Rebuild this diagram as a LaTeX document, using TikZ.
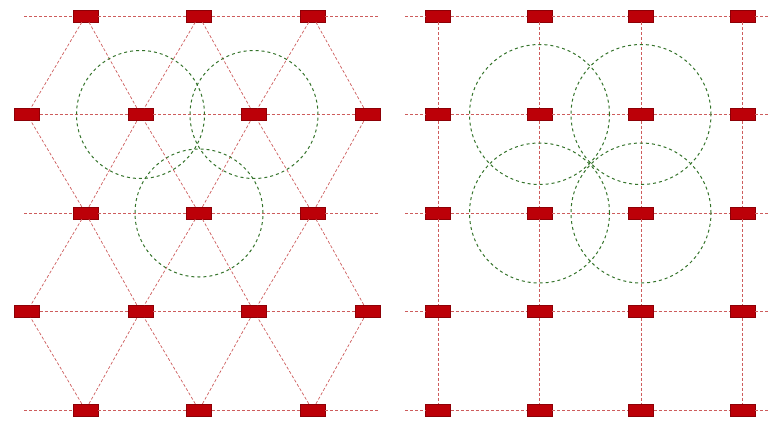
\documentclass[tikz,border=0pt]{standalone}
\usepackage{tikz}
\usetikzlibrary{positioning}
\definecolor{sensorcolor}{RGB}{188,0,8}
\definecolor{linkcolor}{RGB}{205,92,92}
\definecolor{rangecolor}{RGB}{52,115,42}

\begin{document}
\begin{tikzpicture}[x=1pt, y=-1pt,
    sensor/.style={draw=sensorcolor!75!black, fill=sensorcolor, minimum width=25pt, minimum height=12pt, inner sep=0pt},
    link/.style={draw=linkcolor, densely dashed, line width=0.7pt},
    coverage/.style={draw=rangecolor, dashed, line width=1pt}
]
    \useasboundingbox (0,0) rectangle (771,421);

    % Left panel: triangular lattice
    \foreach \r in {0,2,4} {
        \foreach \c in {0,1,2}
            \node[sensor] (L-\r-\c) at (85.5+113.5*\c, 16+98.5*\r) {};
        \coordinate (Lw-\r) at (24, 16+98.5*\r);
        \coordinate (Le-\r) at (380, 16+98.5*\r);
        \draw[link] (Lw-\r) -- (L-\r-0) -- (L-\r-1) -- (L-\r-2) -- (Le-\r);
    }
    \foreach \r in {1,3} {
        \foreach \c in {0,...,3}
            \node[sensor] (L-\r-\c) at (27+113.5*\c, 16+98.5*\r) {};
        \draw[link] (L-\r-0) -- (L-\r-1) -- (L-\r-2) -- (L-\r-3);
    }
    \foreach \r/\s in {0/1,2/1,2/3,4/3}
        \foreach \c in {0,1,2} {
            \pgfmathtruncatemacro{\d}{\c+1}
            \draw[link] (L-\r-\c) -- (L-\s-\c);
            \draw[link] (L-\r-\c) -- (L-\s-\d);
        }

    % Left panel: coverage circles
    \draw[coverage] (L-1-1) circle[radius=64pt];
    \draw[coverage] (L-1-2) circle[radius=64pt];
    \draw[coverage] (L-2-1) circle[radius=64pt];

    % Right panel: square lattice
    \foreach \r in {0,...,4} {
        \foreach \c in {0,...,3}
            \node[sensor] (R-\r-\c) at (438+101.5*\c, 16+98.5*\r) {};
        \coordinate (Rw-\r) at (405, 16+98.5*\r);
        \coordinate (Re-\r) at (770, 16+98.5*\r);
        \draw[link] (Rw-\r) -- (R-\r-0) -- (R-\r-1) -- (R-\r-2) -- (R-\r-3) -- (Re-\r);
    }
    \foreach \c in {0,...,3}
        \draw[link] (R-0-\c) -- (R-1-\c) -- (R-2-\c) -- (R-3-\c) -- (R-4-\c);

    % Right panel: coverage circles
    \foreach \r in {1,2}
        \foreach \c in {1,2}
            \draw[coverage] (R-\r-\c) circle[radius=70pt];
\end{tikzpicture}
\end{document}
